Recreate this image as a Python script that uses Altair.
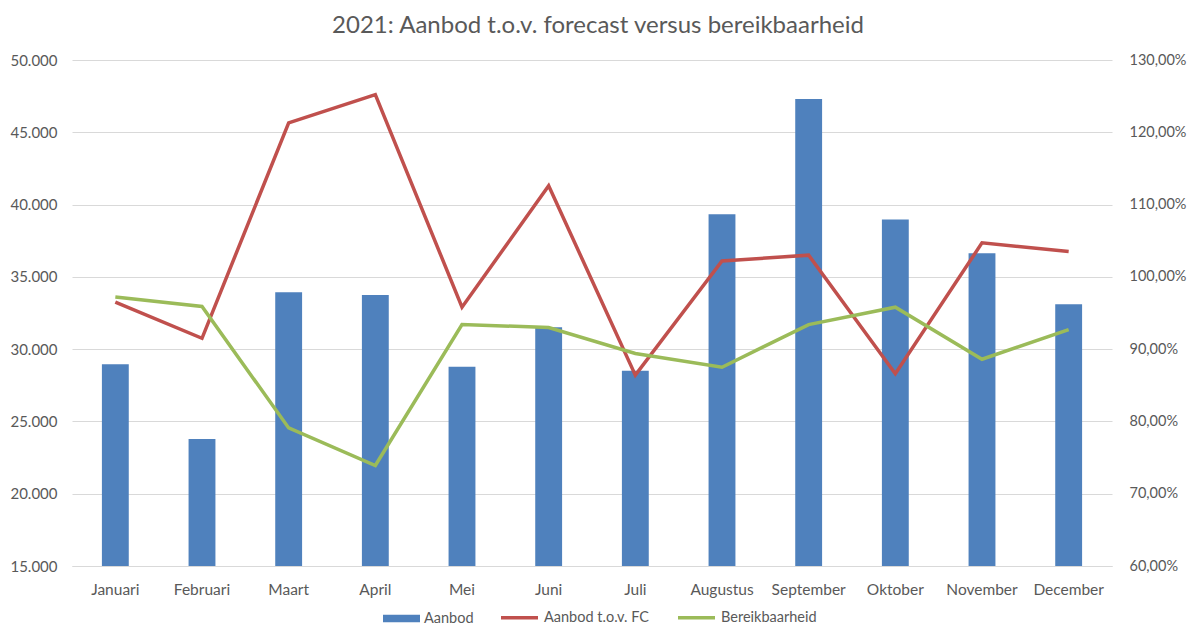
import altair as alt
import pandas as pd

months = ["Januari", "Februari", "Maart", "April", "Mei", "Juni", "Juli",
          "Augustus", "September", "Oktober", "November", "December"]
aanbod = [28960, 23780, 33940, 33740, 28780, 31520, 28500, 39330, 47300, 38960, 36640, 33110]
aanbod_fc = [96.5, 91.5, 121.3, 125.2, 95.8, 112.6, 86.4, 102.2, 103.0, 86.6, 104.7, 103.5]
bereik = [97.2, 95.9, 79.1, 73.9, 93.4, 93.0, 89.4, 87.5, 93.4, 95.8, 88.6, 92.7]
left_ticks = [15000, 20000, 25000, 30000, 35000, 40000, 45000, 50000]
right_ticks = [60, 70, 80, 90, 100, 110, 120, 130]

bars_df = pd.DataFrame({"maand": months, "waarde": aanbod, "serie": ["Aanbod"] * 12})
lines_df = pd.DataFrame({
    "maand": months * 2,
    "pct": aanbod_fc + bereik,
    "serie": ["Aanbod t.o.v. FC"] * 12 + ["Bereikbaarheid"] * 12,
})

FONT = "Lato"
TXT = "#595959"

x_enc = alt.X(
    "maand:N", sort=months,
    scale=alt.Scale(paddingInner=0, paddingOuter=0),
    axis=alt.Axis(title=None, labelAngle=0, ticks=False, domain=True,
                  domainColor="#d9d9d9", labelPadding=16, grid=False,
                  labelFontSize=15.5),
)

bars = alt.Chart(bars_df).mark_bar(width=alt.RelativeBandSize(0.31), color="#4F81BD").encode(
    x=x_enc,
    y=alt.Y("waarde:Q", scale=alt.Scale(domain=[15000, 50000], zero=False, nice=False),
            axis=alt.Axis(title=None, values=left_ticks, ticks=False, domain=False,
                          grid=True, gridColor="#d9d9d9", labelPadding=15,
                          labelFontSize=15,
                          labelExpr="replace(format(datum.value, ',.0f'), ',', '.')")),
    y2=alt.datum(15000),
    color=alt.Color("serie:N", scale=alt.Scale(domain=["Aanbod"], range=["#4F81BD"]),
                    legend=alt.Legend(title=None, orient="none", legendX=311, legendY=540,
                                      direction="horizontal",
                                      symbolType="M-1,-0.2L1,-0.2L1,0.2L-1,0.2Z",
                                      symbolSize=1369, symbolStrokeWidth=0)),
)

lines = alt.Chart(lines_df).mark_line(strokeWidth=3.5).encode(
    x=x_enc,
    y=alt.Y("pct:Q", scale=alt.Scale(domain=[60, 130], zero=False, nice=False),
            axis=alt.Axis(title=None, orient="right", values=right_ticks, ticks=False,
                          domain=False, grid=False, labelPadding=17,
                          labelFontSize=14.5,
                          labelExpr="replace(format(datum.value, '.2f'), '.', ',') + '%'")),
    color=alt.Color("serie:N",
                    scale=alt.Scale(domain=["Aanbod t.o.v. FC", "Bereikbaarheid"],
                                    range=["#C0504D", "#9BBB59"]),
                    legend=alt.Legend(title=None, orient="none", legendX=427, legendY=537,
                                      direction="horizontal", symbolType="stroke",
                                      symbolSize=1369, symbolStrokeWidth=3.5,
                                      columnPadding=22)),
)

chart = alt.layer(bars, lines).resolve_scale(y="independent", color="independent").properties(
    width=1040, height=506,
    title=alt.TitleParams("2021: Aanbod t.o.v. forecast versus bereikbaarheid",
                          fontSize=24, font=FONT, fontWeight="normal", color=TXT,
                          anchor="middle", dx=6, offset=14),
    autosize=alt.AutoSizeParams(type="none"),
    padding={"left": 64, "top": 52, "right": 75, "bottom": 59},
).configure_view(stroke=None).configure_axis(
    labelFont=FONT, labelFontSize=15.5, labelColor=TXT,
).configure_legend(
    labelFont=FONT, labelFontSize=14.5, labelColor=TXT, padding=0, labelOffset=4,
)

chart.save("out.html", embed_options={"renderer": "svg", "actions": False})
